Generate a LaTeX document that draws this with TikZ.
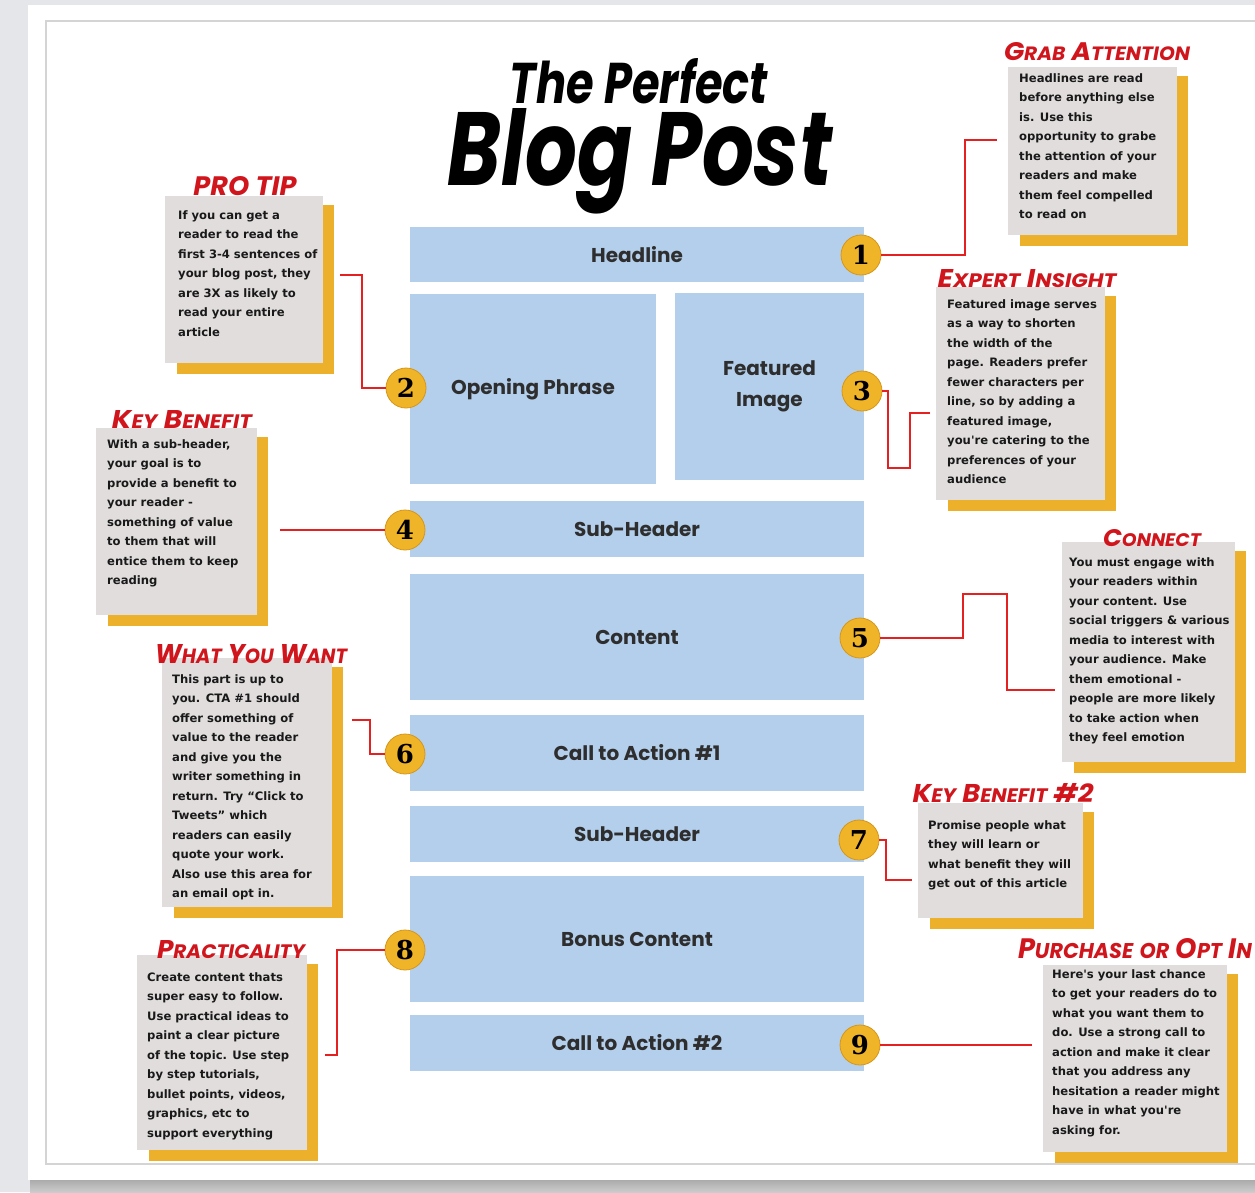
\documentclass[tikz,border=0pt]{standalone}
\usepackage{fontspec}
\usepackage{graphicx}
\newfontfamily\bodyf{DejaVu Sans}
\newfontfamily\labf{Poppins}
\newfontfamily\numf{DejaVu Serif}
\newfontfamily\headf{Poppins}
\definecolor{outerbg}{RGB}{229,230,233}
\definecolor{bordergray}{RGB}{212,212,212}
\definecolor{blueC}{RGB}{180,207,236}
\definecolor{grayC}{RGB}{225,221,221}
\definecolor{goldS}{RGB}{237,176,42}
\definecolor{goldB}{RGB}{240,180,40}
\definecolor{goldD}{RGB}{214,150,25}
\definecolor{redL}{RGB}{228,32,32}
\definecolor{redH}{RGB}{208,22,28}
\newcommand\SC[1]{{\fontsize{7.6}{9}\selectfont #1}}
\newcommand\mytb[5]{%
  \fill[goldS] (#2+12,#3+9) rectangle (#4+11,#5+11);
  \node[tboxs, minimum width={#4-#2}, minimum height={#5-#3}] (#1) at ({(#2+#4)/2},{(#3+#5)/2}) {};}
\tikzset{
  blk/.style={fill=blueC, draw=none, inner sep=0pt, outer sep=0pt, anchor=north west,
    font=\labf\bfseries\fontsize{20}{31}\selectfont, text=black!82, align=center},
  badge/.style={circle, fill=goldB, draw=goldD, line width=0.8pt, minimum size=40pt, inner sep=0pt,
    font=\numf\bfseries\fontsize{26}{26}\selectfont},
  tboxs/.style={fill=grayC, draw=none, inner sep=0pt, outer sep=0pt},
  bodytxt/.style={anchor=north west, inner sep=0pt, align=left, text=black!90,
    font=\bodyf\bfseries\fontsize{11.6}{19.5}\selectfont},
  hd/.style={inner sep=0pt, text=redH, font=\headf\bfseries\itshape\fontsize{10}{12}\selectfont},
  ttl/.style={inner sep=0pt, anchor=base, text=black, font=\headf\bfseries\itshape\fontsize{40}{44}\selectfont},
  conn/.style={draw=redL, line width=2pt}
}
\begin{document}
\begin{tikzpicture}[x=1pt,y=-1pt]
\useasboundingbox (0,0) rectangle (1255,1192);
\fill[outerbg] (0,0) rectangle (1255,1192);
\shade[top color=gray!70, bottom color=gray!40] (30,1178) rectangle (1255,1192);
\fill[white] (28,5) rectangle (1262,1180);
\draw[bordergray, line width=1.3pt] (46,21) rectangle (1270,1164);

% title
\node[ttl] (t1) at (639,103) {\resizebox{258pt}{45pt}{The Perfect}};
\node[ttl] (t2) at (640,185) {\resizebox{385pt}{77pt}{Blog Post}};

% main blocks
\node[blk, minimum width=454pt, minimum height=55pt] (head) at (410,227) {Headline};
\node[blk, minimum width=246pt, minimum height=190pt] (open) at (410,294) {Opening Phrase};
\node[blk, minimum width=189pt, minimum height=187pt] (feat) at (675,293) {Featured\\Image};
\node[blk, minimum width=454pt, minimum height=56pt] (sub1) at (410,501) {Sub-Header};
\node[blk, minimum width=454pt, minimum height=126pt] (cont) at (410,574) {Content};
\node[blk, minimum width=454pt, minimum height=76pt] (cta1) at (410,715) {Call to Action \#1};
\node[blk, minimum width=454pt, minimum height=56pt] (sub2) at (410,806) {Sub-Header};
\node[blk, minimum width=454pt, minimum height=126pt] (bonus) at (410,876) {Bonus Content};
\node[blk, minimum width=454pt, minimum height=56pt] (cta2) at (410,1015) {Call to Action \#2};

% badges
\node[badge] (b1) at (861,255) {1};
\node[badge] (b2) at (406,388) {2};
\node[badge] (b3) at (862,391) {3};
\node[badge] (b4) at (405,530) {4};
\node[badge] (b5) at (860,638) {5};
\node[badge] (b6) at (405,754) {6};
\node[badge] (b7) at (859,840) {7};
\node[badge] (b8) at (405,950) {8};
\node[badge] (b9) at (860,1045) {9};

% text boxes
\mytb{ga}{1008}{67}{1177}{235}
\mytb{pt}{165}{196}{323}{363}
\mytb{kb}{96}{428}{257}{615}
\mytb{ei}{936}{287}{1105}{500}
\mytb{co}{1062}{542}{1235}{762}
\mytb{wy}{162}{658}{332}{907}
\mytb{kt}{918}{803}{1083}{918}
\mytb{pr}{137}{955}{307}{1150}
\mytb{po}{1043}{965}{1227}{1152}

% headings
\node[hd] (hga) at (1097,52) {\resizebox{186pt}{18pt}{G\SC{RAB} A\SC{TTENTION}}};
\node[hd] (hpt) at (245,186) {\resizebox{103pt}{19pt}{PRO TIP}};
\node[hd] (hkb) at (182,419) {\resizebox{140pt}{18pt}{K\SC{EY} B\SC{ENEFIT}}};
\node[hd] (hei) at (1027,279) {\resizebox{179pt}{18pt}{E\SC{XPERT} I\SC{NSIGHT}}};
\node[hd] (hco) at (1152,538) {\resizebox{98pt}{17pt}{C\SC{ONNECT}}};
\node[hd] (hwy) at (251,654) {\resizebox{192pt}{19pt}{W\SC{HAT} Y\SC{OU} W\SC{ANT}}};
\node[hd] (hkt) at (1003,793) {\resizebox{181pt}{19pt}{K\SC{EY} B\SC{ENEFIT} \#2}};
\node[hd] (hpr) at (231,950) {\resizebox{148pt}{18pt}{P\SC{RACTICALITY}}};
\node[hd] (hpo) at (1135,949) {\resizebox{234pt}{20pt}{P\SC{URCHASE} \SC{OR} O\SC{PT} I\SC{N}}};

% body texts
\node[bodytxt] (xga) at (1019,73) {Headlines are read\\before anything else\\is. Use this\\opportunity to grabe\\the attention of your\\readers and make\\them feel compelled\\to read on};
\node[bodytxt] (xpt) at (178,210) {If you can get a\\reader to read the\\first 3-4 sentences of\\your blog post, they\\are 3X as likely to\\read your entire\\article};
\node[bodytxt] (xkb) at (107,439) {With a sub-header,\\your goal is to\\provide a benefit to\\your reader -\\something of value\\to them that will\\entice them to keep\\reading};
\node[bodytxt] (xei) at (947,299) {Featured image serves\\as a way to shorten\\the width of the\\page. Readers prefer\\fewer characters per\\line, so by adding a\\featured image,\\you're catering to the\\preferences of your\\audience};
\node[bodytxt] (xco) at (1069,557) {You must engage with\\your readers within\\your content. Use\\social triggers \& various\\media to interest with\\your audience. Make\\them emotional -\\people are more likely\\to take action when\\they feel emotion};
\node[bodytxt] (xwy) at (172,674) {This part is up to\\you. CTA \#1 should\\offer something of\\value to the reader\\and give you the\\writer something in\\return. Try “Click to\\Tweets” which\\readers can easily\\quote your work.\\Also use this area for\\an email opt in.};
\node[bodytxt] (xkt) at (928,820) {Promise people what\\they will learn or\\what benefit they will\\get out of this article};
\node[bodytxt] (xpr) at (147,972) {Create content thats\\super easy to follow.\\Use practical ideas to\\paint a clear picture\\of the topic. Use step\\by step tutorials,\\bullet points, videos,\\graphics, etc to\\support everything};
\node[bodytxt] (xpo) at (1052,969) {Here's your last chance\\to get your readers do to\\what you want them to\\do. Use a strong call to\\action and make it clear\\that you address any\\hesitation a reader might\\have in what you're\\asking for.};

% connector end points
\coordinate (e1) at (997,140);
\coordinate (e2) at (340,275);
\coordinate (e3) at (930,413);
\coordinate (e4) at (280,530);
\coordinate (e5) at (1055,690);
\coordinate (e6) at (352,720);
\coordinate (e7) at (912,880);
\coordinate (e8) at (325,1055);
\coordinate (e9) at (1032,1045);

% connectors
\draw[conn] (b1.east) -- (965,255) |- (e1);
\draw[conn] (b2.west) -- (362,388) |- (e2);
\draw[conn] (b3.east) -- (888,391) -- (888,468) -- (910,468) |- (e3);
\draw[conn] (b4.west) -- (e4);
\draw[conn] (b5.east) -- (963,638) -- (963,594) -- (1007,594) |- (e5);
\draw[conn] (b6.west) -- (370,754) |- (e6);
\draw[conn] (b7.east) -- (886,840) |- (e7);
\draw[conn] (b8.west) -- (337,950) |- (e8);
\draw[conn] (b9.east) -- (e9);
\end{tikzpicture}
\end{document}
